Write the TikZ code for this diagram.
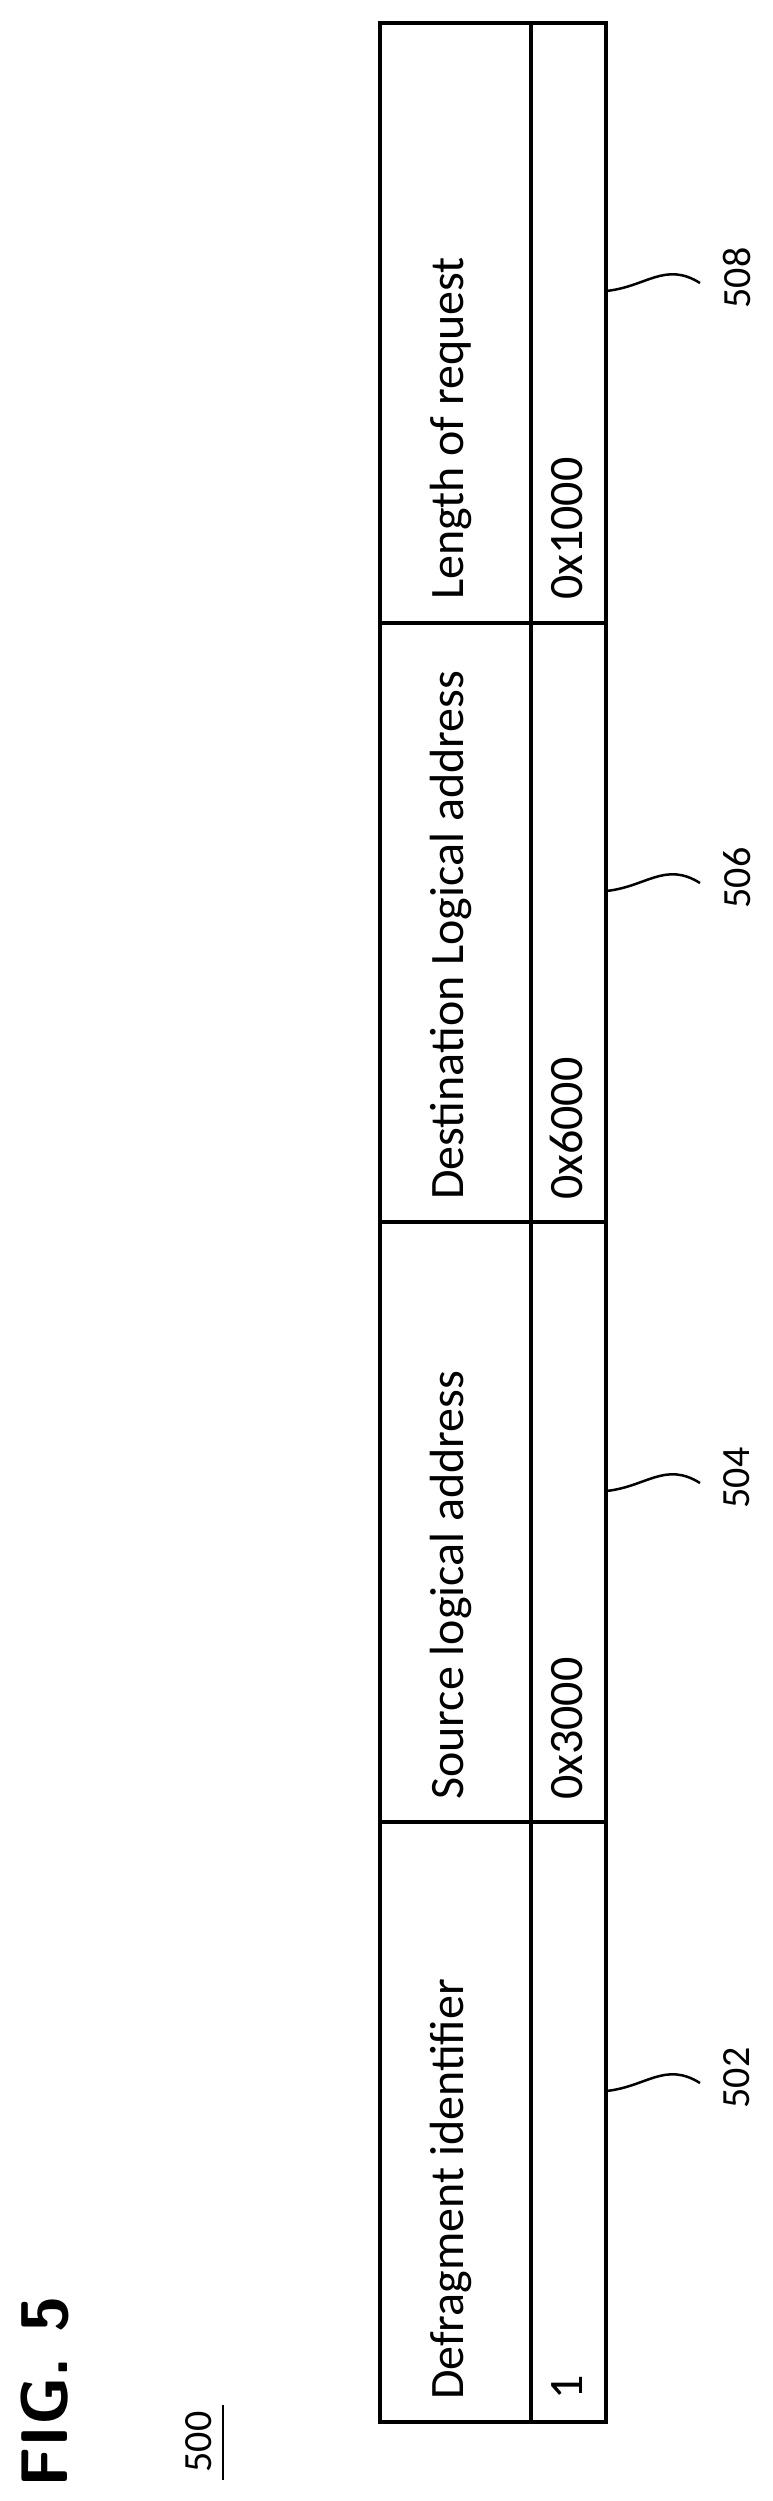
\documentclass[tikz,border=0pt]{standalone}
\usepackage{fontspec}
\setmainfont{Carlito}
\begin{document}
\begin{tikzpicture}[x=1pt,y=-1pt,
  tline/.style={line width=3.5pt},
  celltext/.style={rotate=90,anchor=south west,inner sep=0pt,font=\fontsize{48}{50}\selectfont},
  reflabel/.style={rotate=90,inner sep=0pt,font=\fontsize{40}{42}\selectfont},
  leader/.style={line width=2.5pt}]
\useasboundingbox (0,0) rectangle (772,2501);
% table
\draw[tline] (380,23) rectangle (606,2422);
\draw[tline] (531,23) -- (531,2422);
\foreach \y in {623,1222,1822} \draw[tline] (380,\y) -- (606,\y);
% header texts (baseline toward right)
\node[celltext] (h1) at (472,2400) {Defragment identifier};
\node[celltext] (h2) at (472,1800) {Source logical address};
\node[celltext] (h3) at (472,1200) {Destination Logical address};
\node[celltext] (h4) at (472,600) {Length of request};
\node[celltext] (v1) at (583,2400) {1};
\node[celltext] (v2) at (583,1800) {0x3000};
\node[celltext] (v3) at (583,1200) {0x6000};
\node[celltext] (v4) at (583,600) {0x1000};
% reference labels and leaders
\foreach \k/\t in {0/508,1/506,2/504,3/502}{
  \coordinate (s\t) at (606,{291+600*\k});
  \coordinate (e\t) at (700,{283+600*\k});
  \node[reflabel] (l\t) at (737,{278+600*\k}) {\t};
  \draw[leader] (s\t) .. controls ++(40,-4) and ++(-35,-22) .. (e\t);
}
% figure title
\node[rotate=90,inner sep=0pt,font=\sffamily\bfseries\fontsize{66}{68}\selectfont] (fig) at (45,2392) {FIG. 5};
\node[reflabel,inner sep=0pt] (n500) at (199,2442) {500};
\draw[line width=2pt] (223,2405) -- (223,2480);
\end{tikzpicture}
\end{document}
